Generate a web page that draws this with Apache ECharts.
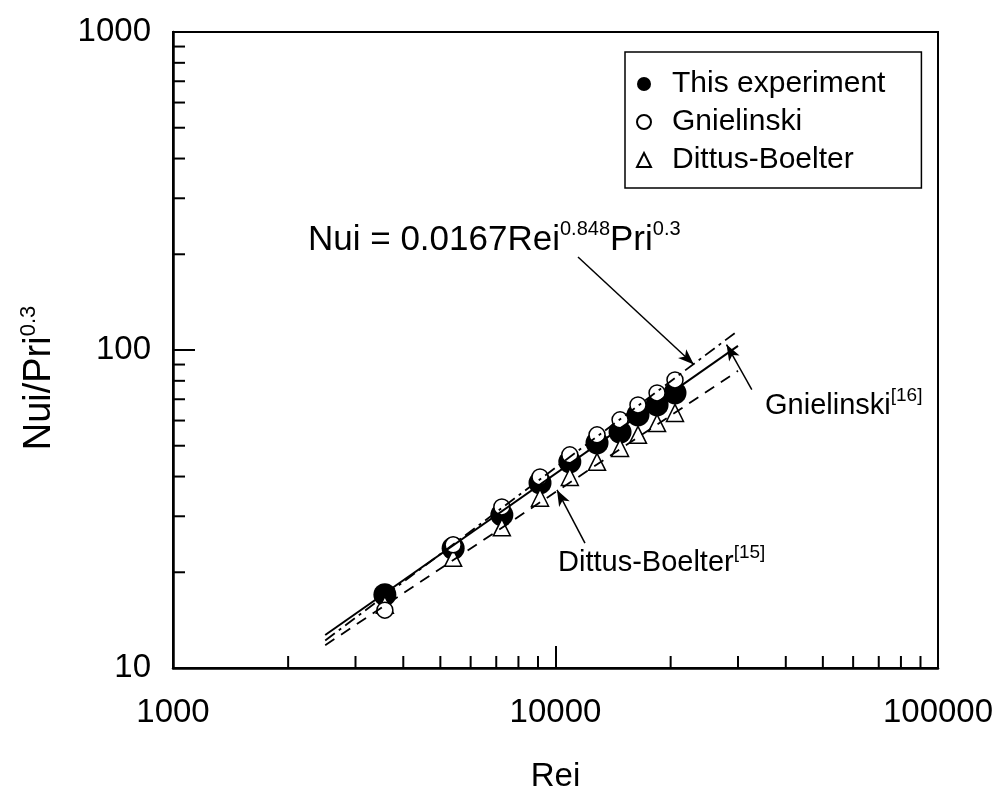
<!DOCTYPE html>
<html>
<head>
<meta charset="utf-8">
<script src="https://cdn.jsdelivr.net/npm/echarts@6/dist/echarts.min.js"></script>
<style>
  html, body { margin: 0; background: #fff; }
  #chart { width: 997px; height: 803px; }
</style>
</head>
<body>
<div id="chart"></div>
<script>
// Data
const reValues = [3580, 5400, 7240, 9110, 10900, 12840, 14750, 16430, 18430, 20530];
const nuExperiment = [17.0, 23.8, 30.3, 38.2, 44.5, 51.0, 55.2, 62.5, 67.2, 73.3];
const nuGnielinski = [15.2, 24.4, 32.1, 39.9, 46.8, 54.1, 60.3, 67.2, 73.3, 80.5];
const nuDittus = [15.8, 22.2, 27.7, 34.3, 39.9, 44.5, 49.2, 54.1, 58.9, 63.4];

// correlation lines (end points)
const lineRe = [2500, 30000];
const fitNu = [12.7, 103];
const gnielinskiNu = [12.2, 115];
const dittusNu = [11.8, 86];

const xMinorTicks = [2000, 3000, 4000, 5000, 6000, 7000, 8000, 9000,
  20000, 30000, 40000, 50000, 60000, 70000, 80000, 90000];
const yMinorTicks = [20, 30, 40, 50, 60, 70, 80, 90,
  200, 300, 400, 500, 600, 700, 800, 900];

const FONT = "Liberation Sans";

const chart = echarts.init(document.getElementById("chart"));

const pairs = (xs, ys) => xs.map((x, i) => [x, ys[i]]);

// minor log ticks (2..9 in every decade), drawn inside the frame
const tickSeries = (values, horizontal) => ({
  type: "custom",
  silent: true,
  clip: false,
  data: values.map((v) => (horizontal ? [v, 10] : [1000, v])),
  renderItem: (params, api) => {
    const p = api.coord([api.value(0), api.value(1)]);
    return {
      type: "line",
      shape: horizontal
        ? { x1: p[0], y1: p[1], x2: p[0], y2: p[1] - 12 }
        : { x1: p[0], y1: p[1], x2: p[0] + 12, y2: p[1] },
      style: { stroke: "#000", lineWidth: 2 },
    };
  },
});

const arrow = (from, to) => [{ coord: from }, { coord: to }];

const supText = (text, x, y, size, supSize, lh) => ({
  type: "text",
  left: x,
  top: y,
  style: {
    text,
    font: `${size}px "${FONT}"`,
    fill: "#000",
    lineHeight: lh,
    rich: {
      sup: { fontSize: supSize, fontFamily: FONT, lineHeight: lh, verticalAlign: "top", fill: "#000" },
    },
  },
});

const options = {
  animation: false,
  backgroundColor: "#fff",
  textStyle: { fontFamily: FONT, color: "#000" },
  grid: {
    left: 173,
    right: 59,
    top: 32,
    bottom: 135,
    show: true,
    borderColor: "#000",
    borderWidth: 2,
  },
  legend: {
    orient: "vertical",
    left: 625,
    top: 52,
    padding: [17, 36, 13, 11],
    itemGap: 8,
    itemWidth: 14,
    itemHeight: 14,
    borderColor: "#000",
    borderWidth: 1.5,
    borderRadius: 0,
    backgroundColor: "#fff",
    textStyle: { fontFamily: FONT, fontSize: 30, color: "#000", padding: [0, 0, 0, 16] },
    data: ["This experiment", "Gnielinski", "Dittus-Boelter"],
  },
  xAxis: {
    type: "log",
    logBase: 10,
    min: 1000,
    max: 100000,
    name: "Rei",
    nameLocation: "middle",
    nameGap: 92,
    nameTextStyle: { fontFamily: FONT, fontSize: 33, color: "#000" },
    axisLine: { lineStyle: { color: "#000", width: 2.5 } },
    axisTick: { inside: true, length: 22, lineStyle: { color: "#000", width: 2 } },
    axisLabel: {
      margin: 28,
      fontFamily: FONT,
      fontSize: 33,
      color: "#000",
      formatter: (v) => String(Math.round(v)),
    },
    splitLine: { show: false },
  },
  yAxis: {
    type: "log",
    logBase: 10,
    min: 10,
    max: 1000,
    axisLine: { lineStyle: { color: "#000", width: 2.5 } },
    axisTick: { inside: true, length: 22, lineStyle: { color: "#000", width: 2 } },
    axisLabel: {
      margin: 22,
      fontFamily: FONT,
      fontSize: 33,
      color: "#000",
      formatter: (v) => String(Math.round(v)),
    },
    splitLine: { show: false },
  },
  series: [
    {
      name: "Nui fit",
      type: "line",
      data: pairs(lineRe, fitNu),
      showSymbol: false,
      silent: true,
      lineStyle: { color: "#000", width: 2, type: "solid" },
      markLine: {
        silent: true,
        symbol: ["none", "arrow"],
        symbolSize: [9, 16],
        label: { show: false },
        lineStyle: { color: "#000", width: 1.5, type: "solid" },
        data: [
          arrow([11450, 196], [23000, 90]),
          arrow([32600, 75], [28000, 104]),
          arrow([11940, 24.7], [10090, 36.3]),
        ],
      },
    },
    {
      name: "Gnielinski line",
      type: "line",
      data: pairs(lineRe, gnielinskiNu),
      showSymbol: false,
      silent: true,
      lineStyle: { color: "#000", width: 1.8, type: [12, 5, 3, 5] },
    },
    {
      name: "Dittus-Boelter line",
      type: "line",
      data: pairs(lineRe, dittusNu),
      showSymbol: false,
      silent: true,
      lineStyle: { color: "#000", width: 1.8, type: [11, 8] },
    },
    {
      name: "This experiment",
      type: "scatter",
      symbol: "circle",
      symbolSize: 23,
      data: pairs(reValues, nuExperiment),
      itemStyle: { color: "#000", opacity: 1 },
    },
    {
      name: "Dittus-Boelter",
      type: "scatter",
      symbol: "triangle",
      symbolSize: 17,
      data: pairs(reValues, nuDittus),
      itemStyle: { color: "#fff", borderColor: "#000", borderWidth: 1.5, opacity: 1 },
    },
    {
      name: "Gnielinski",
      type: "scatter",
      symbol: "circle",
      symbolSize: 16,
      data: pairs(reValues, nuGnielinski),
      itemStyle: { color: "#fff", borderColor: "#000", borderWidth: 1.5, opacity: 1 },
    },
    tickSeries(xMinorTicks, true),
    tickSeries(yMinorTicks, false),
  ],
  graphic: [
    supText("Nui = 0.0167Rei{sup|0.848}Pri{sup|0.3}", 308, 219, 35, 20, 42),
    supText("Gnielinski{sup|[16]}", 765, 386, 29, 19, 40),
    supText("Dittus-Boelter{sup|[15]}", 558, 543, 29, 19, 40),
    {
      // y axis title, rotated
      type: "text",
      x: 40,
      y: 378,
      rotation: Math.PI / 2,
      style: {
        text: "Nui/Pri{sup|0.3}",
        font: `38px "${FONT}"`,
        fill: "#000",
        align: "center",
        verticalAlign: "middle",
        lineHeight: 44,
        rich: {
          sup: { fontSize: 22, fontFamily: FONT, lineHeight: 44, verticalAlign: "top", fill: "#000" },
        },
      },
    },
  ],
};

chart.setOption(options);
</script>
</body>
</html>
